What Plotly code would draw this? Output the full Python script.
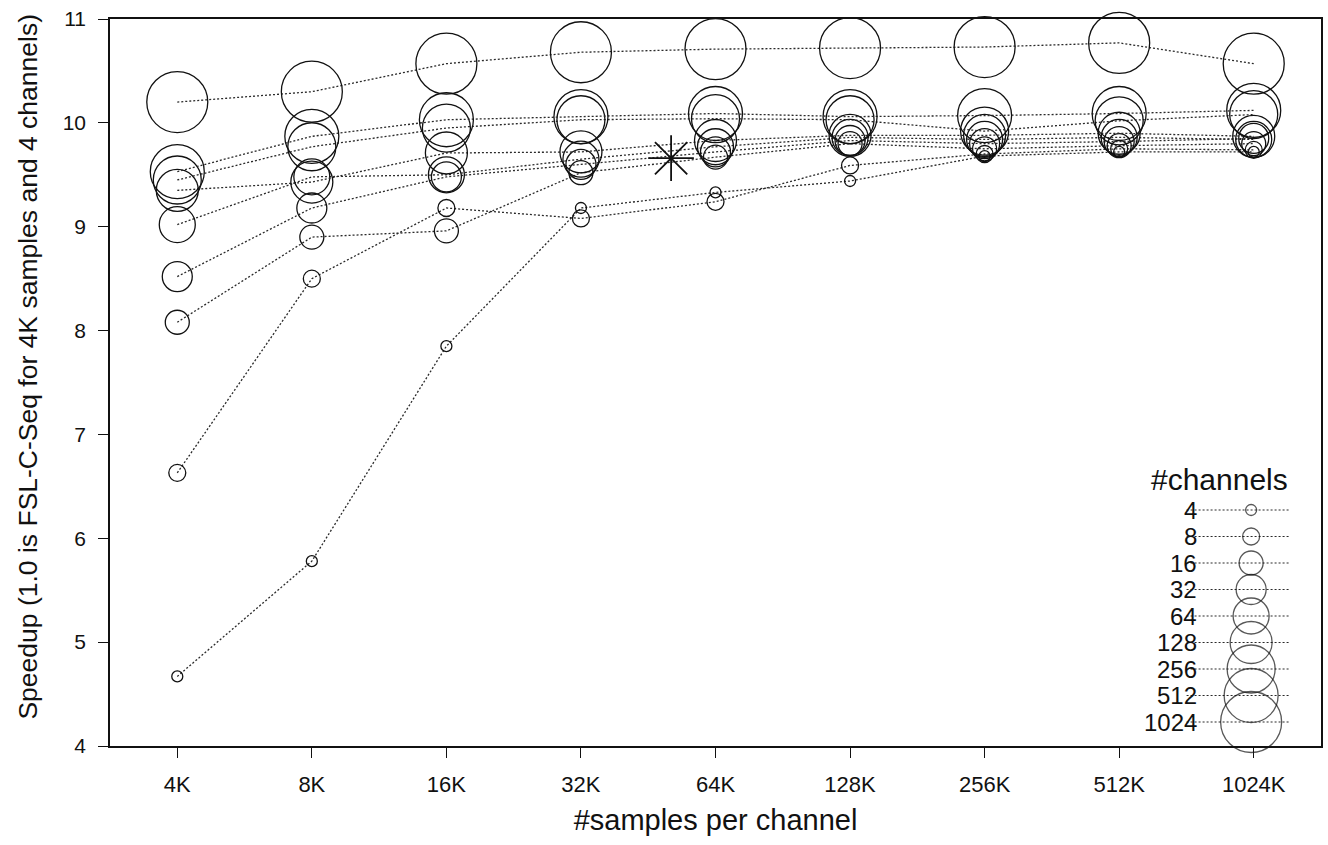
import plotly.graph_objects as go

# ---------------- data ----------------
samples = ["4K", "8K", "16K", "32K", "64K", "128K", "256K", "512K", "1024K"]
channels = [4, 8, 16, 32, 64, 128, 256, 512, 1024]

speed_4 = [4.67, 5.78, 7.85, 9.18, 9.33, 9.44, 9.68, 9.72, 9.72]
speed_8 = [6.63, 8.50, 9.18, 9.08, 9.24, 9.59, 9.70, 9.75, 9.74]
speed_16 = [8.08, 8.90, 8.96, 9.52, 9.67, 9.80, 9.75, 9.78, 9.80]
speed_32 = [8.52, 9.18, 9.48, 9.60, 9.72, 9.83, 9.80, 9.82, 9.85]
speed_64 = [9.02, 9.48, 9.50, 9.65, 9.77, 9.86, 9.84, 9.86, 9.84]
speed_128 = [9.35, 9.43, 9.71, 9.72, 9.83, 9.88, 9.88, 9.90, 9.87]
speed_256 = [9.45, 9.77, 9.95, 10.03, 10.04, 10.03, 9.92, 10.02, 10.08]
speed_512 = [9.53, 9.87, 10.03, 10.06, 10.09, 10.06, 10.07, 10.09, 10.12]
speed_1024 = [10.20, 10.30, 10.57, 10.68, 10.71, 10.72, 10.73, 10.77, 10.57]

series = [speed_4, speed_8, speed_16, speed_32, speed_64,
          speed_128, speed_256, speed_512, speed_1024]

# single highlighted result (asterisk), x given as position on the sample axis
star_x = [3.67]
star_y = [9.66]

# ---------------- styles ----------------
marker_sizes = [11, 17, 24, 30, 36, 42, 48, 54, 61]
FONT = "Liberation Sans, Arial, sans-serif"
LINE_DASH = "2px,2px"
LINE_COLOR = "#2a2a2a"

xpos = list(range(len(samples)))

fig = go.Figure()

for ch, vals, sz in zip(channels, series, marker_sizes):
    fig.add_trace(go.Scatter(
        x=xpos, y=vals, mode="lines+markers", name=str(ch),
        line=dict(color=LINE_COLOR, width=1.3, dash=LINE_DASH),
        marker=dict(symbol="circle-open", size=sz, color="#111111",
                    line=dict(width=1.3, color="#111111")),
        cliponaxis=False, showlegend=False,
    ))

fig.add_trace(go.Scatter(
    x=star_x, y=star_y, mode="markers",
    marker=dict(symbol="asterisk-open", size=38, color="#111111",
                line=dict(width=1.8, color="#111111")),
    showlegend=False, cliponaxis=False,
))

# ---------------- custom legend (overlay axes in plot-area fractions) ----------------
leg_x0, leg_xc, leg_x1, leg_xlabel = 0.889, 0.9423, 0.9744, 0.8995
leg_y_first, leg_step, leg_title_y = 0.3246, 0.03645, 0.3665
leg_title_x = 0.916

for i, (ch, sz) in enumerate(zip(channels, marker_sizes)):
    yy = leg_y_first - i * leg_step
    fig.add_trace(go.Scatter(
        x=[leg_x0, leg_xc, leg_x1], y=[yy, yy, yy],
        xaxis="x2", yaxis="y2", mode="lines+markers",
        line=dict(color=LINE_COLOR, width=1.2, dash=LINE_DASH),
        marker=dict(symbol="circle-open", size=[0, sz, 0], color="#111111",
                    line=dict(width=1.3, color="#111111")),
        cliponaxis=False, showlegend=False, hoverinfo="skip",
    ))
    fig.add_annotation(x=leg_xlabel, y=yy, xref="x2", yref="y2",
                       text=str(ch), showarrow=False, xanchor="right",
                       yanchor="middle", font=dict(size=24, color="#111111", family=FONT))

fig.add_annotation(x=leg_title_x, y=leg_title_y, xref="x2", yref="y2",
                   text="#channels", showarrow=False, xanchor="center",
                   yanchor="middle", font=dict(size=30, color="#111111", family=FONT))

# y-axis title placed as a rotated annotation (to match original offset)
fig.add_annotation(x=-0.0685, y=0.522, xref="paper", yref="paper",
                   text="Speedup (1.0 is FSL-C-Seq for 4K samples and 4 channels)",
                   textangle=-90, showarrow=False, xanchor="center", yanchor="middle",
                   font=dict(size=26.5, color="#111111", family=FONT))

fig.update_layout(
    width=1328, height=845,
    margin=dict(l=110, r=5, t=19, b=99),
    paper_bgcolor="white", plot_bgcolor="white",
    font=dict(family=FONT, color="#111111"),
    xaxis=dict(
        range=[-0.5, 8.5], tickmode="array", tickvals=xpos, ticktext=samples,
        showline=True, linecolor="#111111", linewidth=1.5, mirror=True,
        ticks="outside", ticklen=10, tickwidth=1.3, tickcolor="#111111",
        showgrid=False, zeroline=False, tickfont=dict(size=22),
        ticklabelstandoff=8,
        title=dict(text="#samples per channel", font=dict(size=29), standoff=14),
    ),
    yaxis=dict(
        range=[4, 11], tickmode="linear", tick0=4, dtick=1,
        showline=True, linecolor="#111111", linewidth=1.5, mirror=True,
        ticks="outside", ticklen=10, tickwidth=1.3, tickcolor="#111111",
        showgrid=False, zeroline=False, tickfont=dict(size=21),
        ticklabelstandoff=8,
    ),
    xaxis2=dict(overlaying="x", range=[0, 1], visible=False, fixedrange=True),
    yaxis2=dict(overlaying="y", range=[0, 1], visible=False, fixedrange=True),
)

fig.write_html("out.html")
